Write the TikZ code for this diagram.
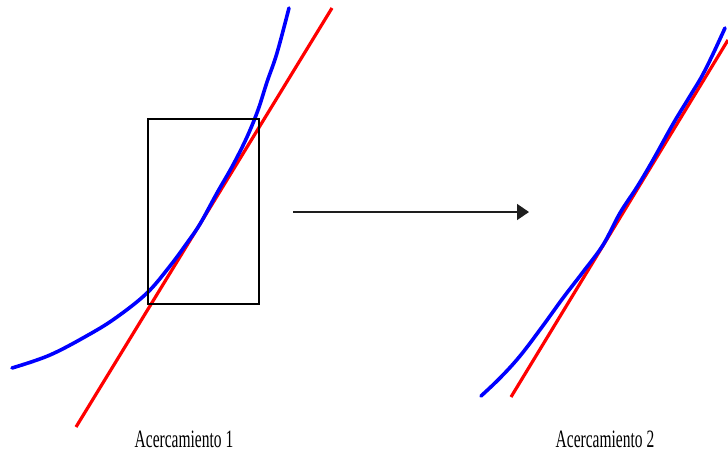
\documentclass[tikz,border=0pt]{standalone}
\usepackage{fontspec}
\setmainfont{Liberation Serif}
\usetikzlibrary{arrows.meta}
\tikzset{
  curve/.style={draw={rgb,255:red,0;green,0;blue,255}, line width=3.6pt, line cap=round, line join=round},
  tangent/.style={draw={rgb,255:red,255;green,0;blue,0}, line width=3.2pt},
  zoombox/.style={draw=black, line width=1.2pt},
  label/.style={font=\fontsize{25}{25}\selectfont, xscale=0.62, inner sep=0pt, anchor=center},
  zoomarrow/.style={draw={rgb,255:red,30;green,30;blue,30}, line width=1.5pt, -{Triangle[length=12pt,width=16pt]}}
}
\begin{document}
\begin{tikzpicture}[x=1pt,y=-1pt]
\useasboundingbox[fill=white] (0,0) rectangle (728,452);
% left panel
\draw[tangent] (76,427) -- (332,8);
\draw[curve] plot[smooth, tension=0.6] coordinates {(12,368) (50,355) (90,334) (117,317) (147,293) (170,266) (187,243) (200,224) (217,193) (233,165) (247,137) (258,110) (267,82) (277,53) (289,8)};
\draw[zoombox] (148,119) rectangle (259,304);
% arrow
\coordinate (a1) at (293,212);
\coordinate (a2) at (529,212);
\draw[zoomarrow] (a1) -- (a2);
% right panel
\draw[tangent] (511,397) -- (728,40);
\draw[curve] plot[smooth, tension=0.6] coordinates {(481,396) (500,378) (520,356) (542,327) (563,298) (583,272) (603,245) (620,213) (637,187) (653,160) (673,124) (690,96) (702,76) (713,54) (725,28)};
% labels
\node[label] (l1) at (184,439) {Acercamiento 1};
\node[label] (l2) at (605,439) {Acercamiento 2};
\end{tikzpicture}
\end{document}
